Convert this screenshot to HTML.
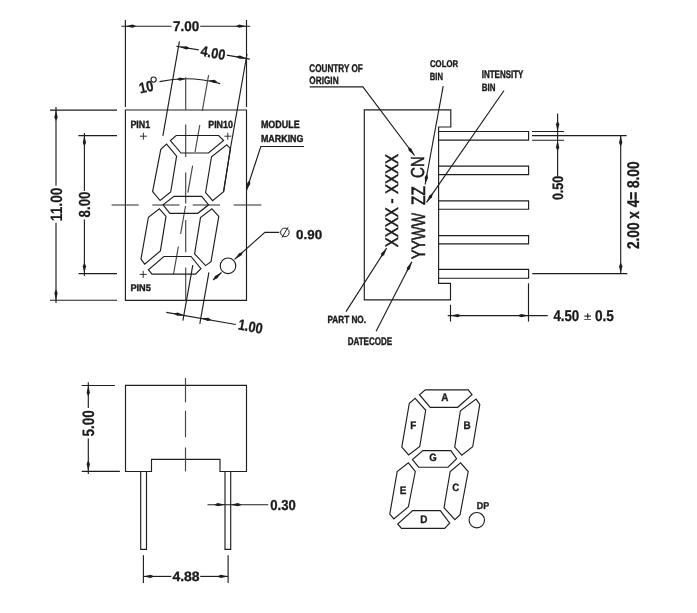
<!DOCTYPE html>
<html><head><meta charset="utf-8"><style>
html,body{margin:0;padding:0;background:#fff;}
body{width:697px;height:613px;overflow:hidden;}
svg{display:block;filter:grayscale(1);font-family:"Liberation Sans",sans-serif;-webkit-font-smoothing:antialiased;}
text{text-rendering:geometricPrecision;}
</style></head><body>
<svg width="697" height="613" viewBox="0 0 697 613">
<rect width="697" height="613" fill="#fff"/>
<g fill="none" stroke="#1e1e1e" stroke-width="1.15">
<polygon points="125.4,110 246.5,110 246.5,300.3 125.4,300.3"/>
<line x1="125.4" y1="20" x2="125.4" y2="107"/>
<line x1="246.5" y1="20" x2="246.5" y2="107"/>
<line x1="121.5" y1="26.2" x2="171.5" y2="26.2"/>
<line x1="200.2" y1="26.2" x2="250.2" y2="26.2"/>
<polygon points="125.4,26.2 132.66,27.85 136.4,26.2 132.66,24.55" fill="#1e1e1e" stroke="none"/>
<polygon points="246.5,26.2 239.24,24.55 235.5,26.2 239.24,27.85" fill="#1e1e1e" stroke="none"/>
<text transform="translate(173.06 31.36) scale(0.9555 1)" font-size="14.085" font-weight="bold" fill="#1a1a1a" stroke="#1a1a1a" stroke-width="0.3">7.00</text>
<line x1="50" y1="110.1" x2="117" y2="110.1"/>
<line x1="50" y1="300.2" x2="117" y2="300.2"/>
<line x1="56" y1="107" x2="56" y2="185.7"/>
<line x1="56" y1="222.8" x2="56" y2="303"/>
<polygon points="56,110.1 54.35,117.36 56,121.1 57.65,117.36" fill="#1e1e1e" stroke="none"/>
<polygon points="56,300.2 57.65,292.94 56,289.2 54.35,292.94" fill="#1e1e1e" stroke="none"/>
<text transform="translate(61.94 221.23) rotate(-90) scale(0.8359 1)" font-size="16.479" font-weight="bold" fill="#1a1a1a" stroke="#1a1a1a" stroke-width="0.15">11.00</text>
<line x1="78.3" y1="135.6" x2="117" y2="135.6"/>
<line x1="78.6" y1="273.6" x2="117" y2="273.6"/>
<line x1="84.4" y1="133" x2="84.4" y2="191"/>
<line x1="84.4" y1="219.4" x2="84.4" y2="276"/>
<polygon points="84.4,135.6 82.75,142.86 84.4,146.6 86.05,142.86" fill="#1e1e1e" stroke="none"/>
<polygon points="84.4,273.6 86.05,266.34 84.4,262.6 82.75,266.34" fill="#1e1e1e" stroke="none"/>
<text transform="translate(90.04 217.4) rotate(-90) scale(0.8304 1)" font-size="16.056" font-weight="bold" fill="#1a1a1a" stroke="#1a1a1a" stroke-width="0.15">8.00</text>
<line x1="179.4" y1="41.3" x2="162.9" y2="135.8"/>
<polyline points="247,54 230.4,148.7 223.6,191.7" fill="none"/>
<line x1="176.3" y1="46.2" x2="198.7" y2="49.9"/>
<line x1="226.8" y1="55.1" x2="249.8" y2="59.1"/>
<polygon points="179.2,46.7 186.06,49.58 190.03,48.61 186.64,46.33" fill="#1e1e1e" stroke="none"/>
<polygon points="246.8,58.5 239.94,55.62 235.97,56.59 239.36,58.87" fill="#1e1e1e" stroke="none"/>
<text transform="translate(212.9 52.8) rotate(10) translate(-12.19 4.96) scale(0.8839 1)" font-size="14.366" font-weight="bold" fill="#1a1a1a" stroke="#1a1a1a" stroke-width="0.3">4.00</text>
<path d="M159.5,81.6 A126.2,126.2 0 0 1 220.2,83.6" fill="none"/>
<polygon points="185.7,78.9 179.69,77.55 176.71,79.35 179.85,80.84" fill="#1e1e1e" stroke="none"/>
<polygon points="208.3,80.6 214,82.95 217.24,81.67 214.39,79.67" fill="#1e1e1e" stroke="none"/>
<text transform="translate(146.2 87) rotate(-12) translate(-7.27 5.15) scale(0.8621 1)" font-size="14.930" font-weight="bold" fill="#1a1a1a" stroke="#1a1a1a" stroke-width="0.3">10</text>
<circle cx="153.6" cy="79.6" r="2.6" stroke-width="1.1"/>
<line x1="185.7" y1="77.3" x2="185.7" y2="110" stroke="#444"/>
<line x1="185.7" y1="124.6" x2="185.7" y2="156.9" stroke="#444"/>
<line x1="185.7" y1="172.5" x2="185.7" y2="203.6" stroke="#444"/>
<line x1="185.7" y1="220" x2="185.7" y2="252.3" stroke="#444"/>
<line x1="185.7" y1="267.5" x2="185.7" y2="300.3" stroke="#444"/>
<line x1="111.6" y1="205" x2="138.7" y2="205" stroke="#444"/>
<line x1="152.3" y1="205" x2="179.5" y2="205" stroke="#444"/>
<line x1="192.7" y1="205" x2="220" y2="205" stroke="#444"/>
<line x1="233.6" y1="205" x2="261.4" y2="205" stroke="#444"/>
<line x1="208.6" y1="75.1" x2="202.27" y2="111" stroke="#444"/>
<line x1="199.81" y1="125" x2="195.05" y2="152" stroke="#444"/>
<line x1="192.63" y1="165.7" x2="187.89" y2="192.6" stroke="#444"/>
<line x1="185.52" y1="206" x2="180.62" y2="233.8" stroke="#444"/>
<line x1="178.38" y1="246.5" x2="173.53" y2="274" stroke="#444"/>
<polygon points="176.2,135.5 218.6,135.5 223.6,140.5 208.5,153 181,153 170.4,140.6"/>
<polygon points="166.6,144.1 176.6,156.2 170.7,192 160.1,200.5 152.6,191.7 160.8,149.4"/>
<polygon points="226.8,144.8 230.4,148.7 223.6,191.7 212.6,200.7 205.6,192.5 211.5,156.7"/>
<polygon points="174,196.4 201.7,196.4 208.6,204.8 197.8,213.3 169.9,213.3 163,204.8"/>
<polygon points="159.4,208.8 166,216.4 160.4,250.9 144.7,264.2 141,259 148.4,217.2"/>
<polygon points="211.9,208.8 218.8,216.4 211,261.7 205.6,265.6 194.6,253.9 200.5,217.6"/>
<polygon points="163.9,256.5 191.1,256.5 200.9,268.7 195.5,274.1 152,274.1 148.4,269.7"/>
<text transform="translate(130.42 128.1) scale(0.8317 1)" font-size="10.725" font-weight="bold" fill="#1a1a1a" stroke="#1a1a1a" stroke-width="0.4">PIN1</text>
<text transform="translate(208.22 128) scale(0.8536 1)" font-size="10.423" font-weight="bold" fill="#1a1a1a" stroke="#1a1a1a" stroke-width="0.4">PIN10</text>
<text transform="translate(130.4 290.71) scale(0.9760 1)" font-size="9.429" font-weight="bold" fill="#1a1a1a" stroke="#1a1a1a" stroke-width="0.4">PIN5</text>
<line x1="139.9" y1="136.2" x2="146.9" y2="136.2" stroke-width="0.9"/>
<line x1="143.4" y1="132.7" x2="143.4" y2="139.7" stroke-width="0.9"/>
<line x1="224.3" y1="136.2" x2="231.3" y2="136.2" stroke-width="0.9"/>
<line x1="227.8" y1="132.7" x2="227.8" y2="139.7" stroke-width="0.9"/>
<line x1="139.7" y1="274.4" x2="146.7" y2="274.4" stroke-width="0.9"/>
<line x1="143.2" y1="270.9" x2="143.2" y2="277.9" stroke-width="0.9"/>
<circle cx="228" cy="265.8" r="7.8"/>
<polyline points="279.3,232.4 264.9,232.4 234.5,259.4" fill="none"/>
<polygon points="234.8,259.2 241.32,255.61 243.03,251.9 239.13,253.15" fill="#1e1e1e" stroke="none"/>
<line x1="213.1" y1="280" x2="221.5" y2="272.5"/>
<polygon points="221.5,272.5 214.98,276.09 213.27,279.8 217.17,278.55" fill="#1e1e1e" stroke="none"/>
<ellipse cx="284.9" cy="232.4" rx="4.3" ry="4.3" stroke-width="1"/>
<line x1="282" y1="237.5" x2="288" y2="227.3" stroke-width="1"/>
<text transform="translate(296.06 238.77) scale(1.0234 1)" font-size="13.099" font-weight="bold" fill="#1a1a1a" stroke="#1a1a1a" stroke-width="0.3">0.90</text>
<line x1="192.8" y1="265.1" x2="182.9" y2="320.7"/>
<line x1="208.9" y1="272.4" x2="199.8" y2="323.9"/>
<line x1="166.3" y1="312.4" x2="235.8" y2="324.5"/>
<polygon points="184.6,315.4 177.74,312.52 173.77,313.49 177.16,315.77" fill="#1e1e1e" stroke="none"/>
<polygon points="200.8,318.2 207.66,321.08 211.63,320.11 208.24,317.83" fill="#1e1e1e" stroke="none"/>
<text transform="translate(250.6 326.5) rotate(10) translate(-12.51 5.1) scale(0.8613 1)" font-size="14.789" font-weight="bold" fill="#1a1a1a" stroke="#1a1a1a" stroke-width="0.3">1.00</text>
<text transform="translate(260.92 127.69) scale(0.8482 1)" font-size="10.563" font-weight="bold" fill="#1a1a1a" stroke="#1a1a1a" stroke-width="0.4">MODULE</text>
<text transform="translate(260.92 141.8) scale(0.8801 1)" font-size="10.141" font-weight="bold" fill="#1a1a1a" stroke="#1a1a1a" stroke-width="0.4">MARKING</text>
<polyline points="304,146.5 260.8,146.5 246.5,190.3" fill="none"/>
<polygon points="246.5,190.3 250.32,183.91 249.91,179.84 247.18,182.89" fill="#1e1e1e" stroke="none"/>
<polygon points="364.3,109.8 450.8,109.8 450.8,127 438.6,127 438.6,283.3 450.5,283.3 450.5,299.8 364.3,299.8"/>
<polyline points="438.6,131.5 528.6,131.5 528.6,140.1 438.6,140.1"/>
<polyline points="438.6,166.1 528.6,166.1 528.6,174.6 438.6,174.6"/>
<polyline points="438.6,200.8 528.6,200.8 528.6,209.2 438.6,209.2"/>
<polyline points="438.6,235.6 528.6,235.6 528.6,243.8 438.6,243.8"/>
<polyline points="438.6,269.4 528.6,269.4 528.6,278.2 438.6,278.2"/>
<text transform="translate(397.8 194.08) rotate(-90) scale(0.8301 1)" font-size="18.116" font-weight="normal" fill="#1a1a1a" stroke="#1a1a1a" stroke-width="0.55">XXXX</text>
<text transform="translate(397.8 247.28) rotate(-90) scale(0.8301 1)" font-size="18.116" font-weight="normal" fill="#1a1a1a" stroke="#1a1a1a" stroke-width="0.55">XXXX</text>
<rect x="391.3" y="198.9" width="2" height="4.3" fill="#1a1a1a" stroke="none"/>
<text transform="translate(424.6 259.26) rotate(-90) scale(0.7469 1)" font-size="19.275" font-weight="normal" fill="#1a1a1a" stroke="#1a1a1a" stroke-width="0.55">YYWW</text>
<text transform="translate(424.6 204.96) rotate(-90) scale(0.8006 1)" font-size="19.275" font-weight="normal" fill="#1a1a1a" stroke="#1a1a1a" stroke-width="0.55">ZZ</text>
<text transform="translate(424.41 177.95) rotate(-90) scale(0.8028 1)" font-size="18.732" font-weight="normal" fill="#1a1a1a" stroke="#1a1a1a" stroke-width="0.55">CN</text>
<text transform="translate(309.37 71.69) scale(0.7337 1)" font-size="11.127" font-weight="bold" fill="#1a1a1a" stroke="#1a1a1a" stroke-width="0.4">COUNTRY OF</text>
<text transform="translate(309.37 84.29) scale(0.7690 1)" font-size="10.704" font-weight="bold" fill="#1a1a1a" stroke="#1a1a1a" stroke-width="0.4">ORIGIN</text>
<polyline points="309.7,86.8 362.9,86.8 414.5,155.5" fill="none"/>
<polygon points="414.5,155.5 411.46,148.7 407.9,146.7 408.82,150.68" fill="#1e1e1e" stroke="none"/>
<text transform="translate(429.99 67.1) scale(0.8000 1)" font-size="9.718" font-weight="bold" fill="#1a1a1a" stroke="#1a1a1a" stroke-width="0.4">COLOR</text>
<text transform="translate(429.81 79.6) scale(0.7293 1)" font-size="10.435" font-weight="bold" fill="#1a1a1a" stroke="#1a1a1a" stroke-width="0.4">BIN</text>
<line x1="443.2" y1="86.2" x2="425.1" y2="184.5"/>
<polygon points="425.1,184.5 428.04,177.66 427.09,173.68 424.79,177.06" fill="#1e1e1e" stroke="none"/>
<text transform="translate(481.78 78.29) scale(0.7355 1)" font-size="10.845" font-weight="bold" fill="#1a1a1a" stroke="#1a1a1a" stroke-width="0.4">INTENSITY</text>
<text transform="translate(481.78 91) scale(0.7389 1)" font-size="10.725" font-weight="bold" fill="#1a1a1a" stroke="#1a1a1a" stroke-width="0.4">BIN</text>
<line x1="504" y1="90.5" x2="426.5" y2="202.4"/>
<polygon points="426.5,202.4 431.99,197.37 432.76,193.36 429.28,195.49" fill="#1e1e1e" stroke="none"/>
<text transform="translate(327.47 323.2) scale(0.7873 1)" font-size="10.423" font-weight="bold" fill="#1a1a1a" stroke="#1a1a1a" stroke-width="0.4">PART NO.</text>
<line x1="346" y1="311.6" x2="386.7" y2="248"/>
<polygon points="386.7,248 381.4,253.22 380.77,257.26 384.18,255" fill="#1e1e1e" stroke="none"/>
<text transform="translate(347.68 344.79) scale(0.7336 1)" font-size="10.986" font-weight="bold" fill="#1a1a1a" stroke="#1a1a1a" stroke-width="0.4">DATECODE</text>
<line x1="376.1" y1="331.3" x2="411.8" y2="261.8"/>
<polygon points="411.8,261.8 407.01,267.5 406.77,271.58 409.95,269.01" fill="#1e1e1e" stroke="none"/>
<line x1="532" y1="131.5" x2="564.1" y2="131.5"/>
<line x1="532" y1="140.2" x2="564.1" y2="140.2"/>
<line x1="557.6" y1="113.4" x2="557.6" y2="176.2"/>
<polygon points="557.6,131.5 559.25,124.24 557.6,120.5 555.95,124.24" fill="#1e1e1e" stroke="none"/>
<polygon points="557.6,140.2 555.95,147.46 557.6,151.2 559.25,147.46" fill="#1e1e1e" stroke="none"/>
<text transform="translate(563.05 200.1) rotate(-90) scale(0.8326 1)" font-size="15.070" font-weight="bold" fill="#1a1a1a" stroke="#1a1a1a" stroke-width="0.3">0.50</text>
<line x1="532" y1="135.6" x2="626.6" y2="135.6"/>
<line x1="532.2" y1="273.6" x2="627.3" y2="273.6"/>
<line x1="620.7" y1="135.6" x2="620.7" y2="273.6"/>
<polygon points="620.7,135.6 619.05,142.86 620.7,146.6 622.35,142.86" fill="#1e1e1e" stroke="none"/>
<polygon points="620.7,273.6 622.35,266.34 620.7,262.6 619.05,266.34" fill="#1e1e1e" stroke="none"/>
<text transform="translate(638.63 249.08) rotate(-90) scale(0.8009 1)" font-size="17.042" font-weight="bold" fill="#1a1a1a" stroke="#1a1a1a" stroke-width="0.3">2.00 x 4= 8.00</text>
<line x1="450.5" y1="304.8" x2="450.5" y2="321.6"/>
<line x1="528.5" y1="283.3" x2="528.5" y2="321.6"/>
<line x1="447.7" y1="315.6" x2="547.7" y2="315.6"/>
<polygon points="450.5,315.6 457.76,317.25 461.5,315.6 457.76,313.95" fill="#1e1e1e" stroke="none"/>
<polygon points="528.5,315.6 521.24,313.95 517.5,315.6 521.24,317.25" fill="#1e1e1e" stroke="none"/>
<text transform="translate(553.4 321.35) scale(0.8572 1)" font-size="15.493" font-weight="bold" fill="#1a1a1a" stroke="#1a1a1a" stroke-width="0.3">4.50</text>
<text transform="translate(584.1 320.2) scale(1.2245 1)" font-size="10.833" font-weight="normal" fill="#1a1a1a" stroke="#1a1a1a" stroke-width="0.2">±</text>
<text transform="translate(594.95 321.35) scale(0.8817 1)" font-size="15.493" font-weight="bold" fill="#1a1a1a" stroke="#1a1a1a" stroke-width="0.3">0.5</text>
<polygon points="125.5,385.4 246.5,385.4 246.5,471.5 220,471.5 220,459.4 151.5,459.4 151.5,471.5 125.5,471.5"/>
<polyline points="140.7,471.5 140.7,549.3 146.5,549.3 146.5,471.5"/>
<polyline points="225,471.5 225,549.3 230.7,549.3 230.7,471.5"/>
<line x1="185.5" y1="378.1" x2="185.5" y2="402.3" stroke="#444"/>
<line x1="185.5" y1="410.8" x2="185.5" y2="437.2" stroke="#444"/>
<line x1="185.5" y1="447.5" x2="185.5" y2="471.4" stroke="#444"/>
<line x1="81.7" y1="385.5" x2="114.9" y2="385.5"/>
<line x1="81.7" y1="471.3" x2="119.9" y2="471.3"/>
<line x1="88.3" y1="382.2" x2="88.3" y2="408"/>
<line x1="88.3" y1="438.5" x2="88.3" y2="474"/>
<polygon points="88.3,385.5 86.65,392.76 88.3,396.5 89.95,392.76" fill="#1e1e1e" stroke="none"/>
<polygon points="88.3,471.3 89.95,464.04 88.3,460.3 86.65,464.04" fill="#1e1e1e" stroke="none"/>
<text transform="translate(94.33 436.5) rotate(-90) scale(0.8119 1)" font-size="16.620" font-weight="bold" fill="#1a1a1a" stroke="#1a1a1a" stroke-width="0.15">5.00</text>
<line x1="207.5" y1="504.7" x2="268.2" y2="504.7"/>
<polygon points="225,504.7 217.74,503.05 214,504.7 217.74,506.35" fill="#1e1e1e" stroke="none"/>
<polygon points="230.7,504.7 237.96,506.35 241.7,504.7 237.96,503.05" fill="#1e1e1e" stroke="none"/>
<text transform="translate(270.27 509.85) scale(0.9055 1)" font-size="14.507" font-weight="bold" fill="#1a1a1a" stroke="#1a1a1a" stroke-width="0.3">0.30</text>
<line x1="143.4" y1="555.2" x2="143.4" y2="582.9"/>
<line x1="228.1" y1="555.2" x2="228.1" y2="582.9"/>
<line x1="143.4" y1="576.4" x2="171.3" y2="576.4"/>
<line x1="200.2" y1="576.4" x2="228.1" y2="576.4"/>
<polygon points="143.4,576.4 150.66,578.05 154.4,576.4 150.66,574.75" fill="#1e1e1e" stroke="none"/>
<polygon points="228.1,576.4 220.84,574.75 217.1,576.4 220.84,578.05" fill="#1e1e1e" stroke="none"/>
<text transform="translate(172.39 581.46) scale(1.0354 1)" font-size="13.521" font-weight="bold" fill="#1a1a1a" stroke="#1a1a1a" stroke-width="0.3">4.88</text>
<polygon points="425.3,389.8 468.2,389.8 472,394.7 457.7,407.3 430.2,407.3 419.5,394.7"/>
<polygon points="415.2,398.4 425.7,410.3 419.8,446.4 408.6,455 401.8,447.1 409.3,403.2"/>
<polygon points="476.1,399.1 479.8,404.3 472.7,446.8 461.8,455.2 454.7,447.1 460.4,410.7"/>
<polygon points="422.9,450.6 450.9,450.6 456.6,458.6 448,467.2 418.7,467.2 412.4,459.5"/>
<polygon points="408.4,462.9 415.3,471.5 408.4,506.8 393.8,518.9 389.8,514 397.2,471.5"/>
<polygon points="460.6,462.9 468.2,471.5 460.1,514.6 454.9,519.7 444,507.7 450.2,471.5"/>
<polygon points="412.7,510.6 440.3,510.6 449.7,523.2 444.6,528.3 401.5,528.3 397.7,524"/>
<circle cx="476.8" cy="520.2" r="7.7"/>
<text transform="translate(444.7 397) rotate(0) translate(-3.57 3.8) scale(0.9000 1)" font-size="11.014" font-weight="bold" fill="#1a1a1a" stroke="#1a1a1a" stroke-width="0.3">A</text>
<text transform="translate(413.4 425) rotate(0) translate(-3.17 3.8) scale(0.9000 1)" font-size="11.014" font-weight="bold" fill="#1a1a1a" stroke="#1a1a1a" stroke-width="0.3">F</text>
<text transform="translate(467.2 425) rotate(0) translate(-3.67 3.8) scale(0.9000 1)" font-size="11.014" font-weight="bold" fill="#1a1a1a" stroke="#1a1a1a" stroke-width="0.3">B</text>
<text transform="translate(433 457.7) rotate(0) translate(-3.64 3.69) scale(0.9000 1)" font-size="10.704" font-weight="bold" fill="#1a1a1a" stroke="#1a1a1a" stroke-width="0.3">G</text>
<text transform="translate(403.2 490) rotate(0) translate(-3.44 3.8) scale(0.9000 1)" font-size="11.014" font-weight="bold" fill="#1a1a1a" stroke="#1a1a1a" stroke-width="0.3">E</text>
<text transform="translate(455.8 487) rotate(0) translate(-3.54 3.69) scale(0.9000 1)" font-size="10.704" font-weight="bold" fill="#1a1a1a" stroke="#1a1a1a" stroke-width="0.3">C</text>
<text transform="translate(423.9 519.2) rotate(0) translate(-3.69 3.8) scale(0.9000 1)" font-size="11.014" font-weight="bold" fill="#1a1a1a" stroke="#1a1a1a" stroke-width="0.3">D</text>
<text transform="translate(476.72 508.5) scale(0.9046 1)" font-size="9.855" font-weight="bold" fill="#1a1a1a" stroke="#1a1a1a" stroke-width="0.3">DP</text>
</g>
</svg>
</body></html>
